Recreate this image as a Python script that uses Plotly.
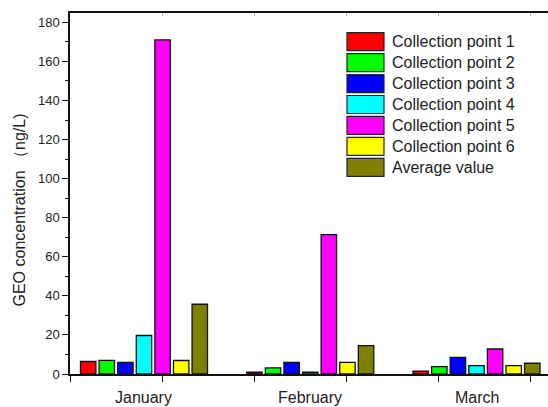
import plotly.graph_objects as go

# GEO concentration by collection point and month
months = ["January", "February", "March"]
series_names = [
    "Collection point 1",
    "Collection point 2",
    "Collection point 3",
    "Collection point 4",
    "Collection point 5",
    "Collection point 6",
    "Average value",
]
point1 = [6.4, 0.9, 1.4]
point2 = [7.0, 3.1, 3.8]
point3 = [5.9, 5.9, 8.5]
point4 = [19.7, 0.9, 4.3]
point5 = [171.0, 71.3, 12.8]
point6 = [6.9, 6.0, 4.3]
average = [35.7, 14.5, 5.5]
series_values = [point1, point2, point3, point4, point5, point6, average]
colors = ["#FF0000", "#00FF00", "#0000FF", "#00FFFF", "#FF00FF", "#FFFF00", "#808000"]

y_ticks = list(range(0, 181, 20))
x_tick_marks = [-0.444, 0.110, 0.663, 1.219, 1.774, 2.327]

W, H = 548, 407
M_L, M_R, M_T, M_B = 70, 0, 13, 33
plot_w = W - M_L - M_R
plot_h = H - M_T - M_B


def px_x(px):
    """Figure pixel column -> paper x."""
    return (px - M_L) / plot_w


def px_y(py):
    """Figure pixel row -> paper y."""
    return 1 - (py - M_T) / plot_h


x_positions = list(range(len(months)))
FONT = "Liberation Sans, Arial, sans-serif"

fig = go.Figure()
for name, vals, col in zip(series_names, series_values, colors):
    fig.add_trace(go.Bar(
        x=x_positions, y=vals, name=name,
        marker=dict(color=col, line=dict(color="#111111", width=1.3)),
        showlegend=False,
    ))

fig.update_layout(
    width=W, height=H,
    margin=dict(l=M_L, r=M_R, t=M_T, b=M_B),
    paper_bgcolor="white", plot_bgcolor="white",
    barmode="group", bargap=0.217, bargroupgap=0.17,
    xaxis=dict(
        range=[-0.445, 2.43],
        tickvals=x_tick_marks, ticktext=[""] * len(x_tick_marks),
        ticks="outside", ticklen=6, tickwidth=1.3, tickcolor="#111111",
        showline=True, linecolor="#111111", linewidth=1.5,
        showgrid=False, zeroline=False,
    ),
    xaxis2=dict(
        overlaying="x", side="top", anchor="y", matches="x",
        tickvals=x_tick_marks, ticktext=[""] * len(x_tick_marks),
        ticks="inside", ticklen=3, tickwidth=1, tickcolor="#bbbbbb",
        showline=True, linecolor="#111111", linewidth=1.5,
        showgrid=False, zeroline=False,
    ),
    yaxis=dict(
        range=[0, 184.8],
        tickvals=y_ticks,
        ticks="outside", ticklen=6, tickwidth=1.3, tickcolor="#111111",
        minor=dict(dtick=10, ticks="outside", ticklen=3, tickwidth=1.2, tickcolor="#111111"),
        showline=True, linecolor="#111111", linewidth=1.5,
        showgrid=False, zeroline=False,
        tickfont=dict(family=FONT, size=13, color="#222222"),
    ),
    font=dict(family=FONT, color="#222222"),
)

# Invisible trace keeps the top axis drawn
fig.add_trace(go.Scatter(x=[0], y=[0], xaxis="x2", mode="markers",
                         marker=dict(opacity=0), showlegend=False, hoverinfo="skip"))

# Month labels under each bar group
for i, m in enumerate(months):
    fig.add_annotation(
        x=i, xref="x", y=px_y(397), yref="paper", yanchor="middle",
        text=m, showarrow=False,
        font=dict(family=FONT, size=16, color="#222222"),
    )

# Y axis title
fig.add_annotation(
    x=px_x(18.5), xref="paper", y=px_y(210), yref="paper",
    xanchor="center", yanchor="middle", textangle=-90,
    text="GEO concentration （ng/L)", showarrow=False,
    font=dict(family=FONT, size=16, color="#222222"),
)

# Legend with large swatches
sw_x0, sw_x1 = 347, 384
row_top0, row_pitch, sw_h = 32.7, 20.93, 18
for k, (name, col) in enumerate(zip(series_names, colors)):
    top = row_top0 + k * row_pitch
    fig.add_shape(
        type="rect", xref="paper", yref="paper",
        x0=px_x(sw_x0), x1=px_x(sw_x1),
        y0=px_y(top + sw_h), y1=px_y(top),
        fillcolor=col, line=dict(color="#222222", width=1.2),
    )
    fig.add_annotation(
        x=px_x(390), xref="paper", y=px_y(top + sw_h / 2), yref="paper",
        xanchor="left", yanchor="middle", text=name, showarrow=False,
        font=dict(family=FONT, size=16, color="#222222"),
    )

fig.write_html("out.html")
